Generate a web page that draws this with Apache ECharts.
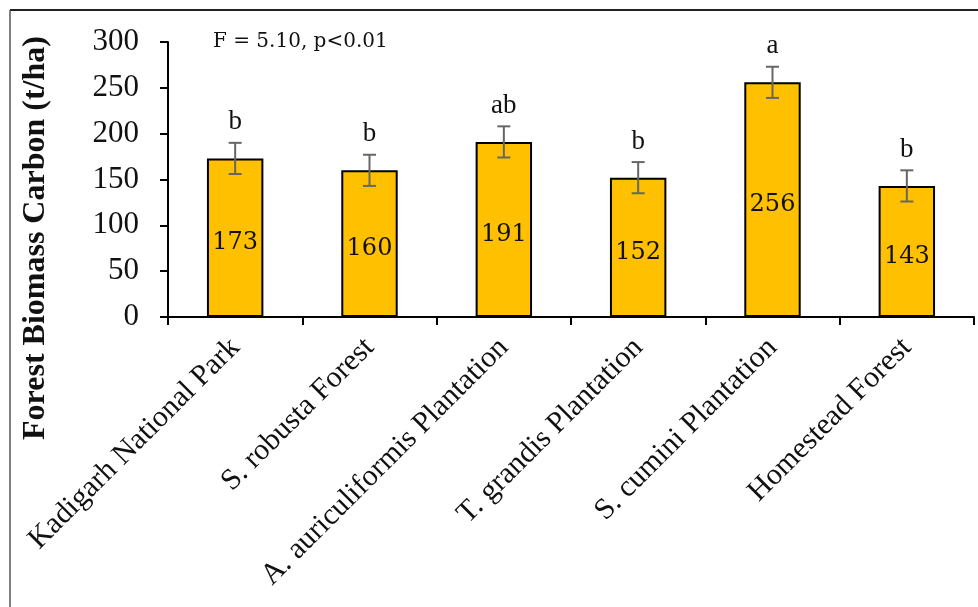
<!DOCTYPE html>
<html>
<head>
<meta charset="utf-8">
<script src="https://cdn.jsdelivr.net/npm/echarts@6/dist/echarts.min.js"></script>
<style>
html,body{margin:0;padding:0;background:#fff;}
#chart{width:978px;height:607px;}
</style>
</head>
<body>
<div id="chart"></div>
<script>
const categories = ['Kadigarh National Park', 'S. robusta Forest', 'A. auriculiformis Plantation', 'T. grandis Plantation', 'S. cumini Plantation', 'Homestead Forest'];
const values = [173, 160, 191, 152, 256, 143];
const errors = [17, 17, 17, 17, 17, 17];
const letters = ['b', 'b', 'ab', 'b', 'a', 'b'];
const yTicks = [0, 50, 100, 150, 200, 250, 300];
const statText = 'F = 5.10, p<0.01';
const yTitle = 'Forest Biomass Carbon (t/ha)';

const chart = echarts.init(document.getElementById('chart'), null, {renderer: 'canvas'});

const errData = categories.map((c, i) => [i, values[i] - errors[i], values[i] + errors[i]]);

chart.setOption({
  backgroundColor: '#fff',
  animation: false,
  grid: {left: 168, right: 4, top: 42, bottom: 290, containLabel: false},
  xAxis: {
    type: 'category',
    data: categories,
    axisLine: {show: true, lineStyle: {color: '#000', width: 2}},
    axisTick: {show: true, length: 8, lineStyle: {color: '#000', width: 2}},
    axisLabel: {
      interval: 0, rotate: 45, margin: 26,
      fontFamily: 'Liberation Serif', fontSize: 30, color: '#111'
    },
    splitLine: {show: false}
  },
  yAxis: {
    type: 'value',
    min: yTicks[0], max: yTicks[yTicks.length - 1], interval: 50,
    axisLine: {show: true, lineStyle: {color: '#000', width: 2}},
    axisTick: {show: true, length: 8, lineStyle: {color: '#000', width: 2}},
    axisLabel: {margin: 29, fontFamily: 'Liberation Serif', fontSize: 31, color: '#111'},
    splitLine: {show: false}
  },
  graphic: [
    {type: 'line', shape: {x1: 10, y1: 10, x2: 978, y2: 10}, style: {stroke: '#222', lineWidth: 2}},
    {type: 'line', shape: {x1: 10, y1: 10, x2: 10, y2: 607}, style: {stroke: '#555', lineWidth: 1.5}},
    {type: 'text', x: 213, y: 42, style: {text: statText, font: '20px "DejaVu Serif"', fill: '#111', verticalAlign: 'middle', align: 'left'}},
    {type: 'text', x: 36, y: 238, rotation: Math.PI / 2, style: {text: yTitle, font: 'bold 32px "Liberation Serif"', fill: '#111', align: 'center', verticalAlign: 'middle'}}
  ],
  series: [
    {
      type: 'bar',
      data: values,
      barWidth: '42%',
      itemStyle: {color: '#FFC000', borderColor: '#000', borderWidth: 2},
      label: {
        show: true, position: 'inside', offset: [0, 5],
        fontFamily: 'DejaVu Serif', fontSize: 24, color: '#111'
      },
      z: 2
    },
    {
      type: 'custom',
      data: errData,
      z: 5,
      renderItem: function (params, api) {
        const i = api.value(0);
        const lo = api.coord([i, api.value(1)]);
        const hi = api.coord([i, api.value(2)]);
        const hw = 6.5;
        const st = {stroke: '#666', lineWidth: 2};
        return {
          type: 'group',
          children: [
            {type: 'line', shape: {x1: hi[0], y1: hi[1], x2: lo[0], y2: lo[1]}, style: st},
            {type: 'line', shape: {x1: hi[0] - hw, y1: hi[1], x2: hi[0] + hw, y2: hi[1]}, style: st},
            {type: 'line', shape: {x1: lo[0] - hw, y1: lo[1], x2: lo[0] + hw, y2: lo[1]}, style: st},
            {type: 'text', x: hi[0], y: hi[1] - 7, style: {text: letters[params.dataIndex], font: '27px "Liberation Serif"', fill: '#111', align: 'center', verticalAlign: 'bottom'}}
          ]
        };
      }
    }
  ]
});
</script>
</body>
</html>
